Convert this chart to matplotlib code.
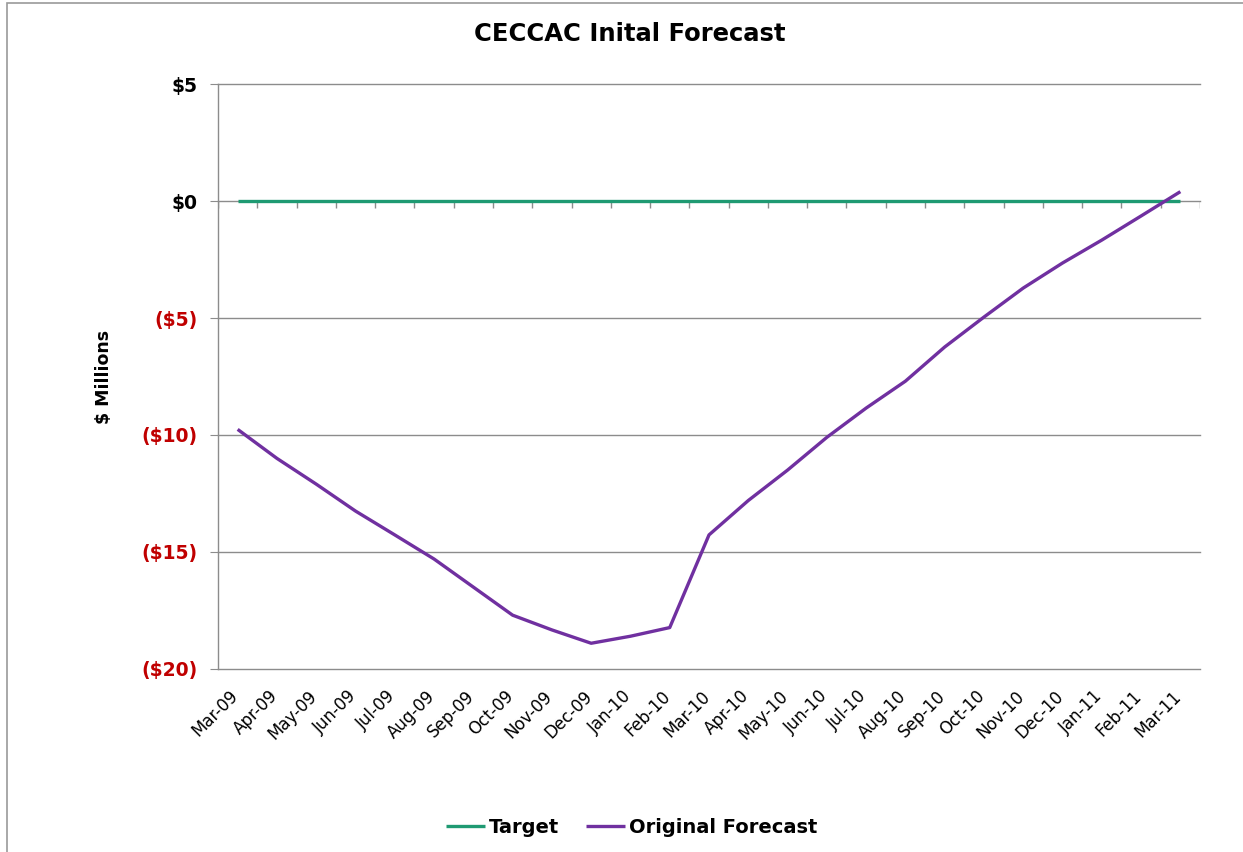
import matplotlib
matplotlib.use('Agg')
import matplotlib.pyplot as plt
import matplotlib.transforms as mtransforms
from matplotlib.patches import Rectangle

# ---- data ----
months = ['Mar-09', 'Apr-09', 'May-09', 'Jun-09', 'Jul-09', 'Aug-09', 'Sep-09',
          'Oct-09', 'Nov-09', 'Dec-09', 'Jan-10', 'Feb-10', 'Mar-10', 'Apr-10',
          'May-10', 'Jun-10', 'Jul-10', 'Aug-10', 'Sep-10', 'Oct-10', 'Nov-10',
          'Dec-10', 'Jan-11', 'Feb-11', 'Mar-11']
target = [0.0] * len(months)
forecast = [-9.76, -11.0, -12.1, -13.25, -14.27, -15.3, -16.5, -17.7, -18.33,
            -18.9, -18.6, -18.23, -14.27, -12.8, -11.5, -10.1, -8.85, -7.7,
            -6.24, -4.96, -3.72, -2.65, -1.67, -0.64, 0.4]
yticks = [5, 0, -5, -10, -15, -20]
ytick_labels = ['$5', '$0', '($5)', '($10)', '($15)', '($20)']

GREEN = '#1F9A72'
PURPLE = '#7030A0'
RED = '#C00000'
GRID = '#8C8C8C'

fig = plt.figure(figsize=(12.43, 8.52), dpi=100)
fig.patches.append(Rectangle((0.0056, -0.01), 1.2, 1.003 - 0.0070 + 0.01,
                             transform=fig.transFigure, fill=False,
                             edgecolor='#9A9A9A', linewidth=1.2))
ax = fig.add_axes([0.1754, 0.2148, 0.9654 - 0.1754, 0.9014 - 0.2148])

x = list(range(len(months)))
ax.set_xlim(-0.5, len(months) - 0.5)
ax.set_ylim(-20, 5)

# gridlines + axis at zero with category tick marks
for v in yticks:
    ax.axhline(v, color=GRID, linewidth=1.0, zorder=1, clip_on=False)
ax.vlines([i - 0.5 for i in range(len(months) + 1)], -0.28, 0,
          color=GRID, linewidth=1.0, zorder=1)

ax.plot(x, target, color=GREEN, linewidth=2.4, label='Target', zorder=3,
        solid_capstyle='butt')
ax.plot(x, forecast, color=PURPLE, linewidth=2.4, label='Original Forecast',
        zorder=4, solid_capstyle='butt')

for s in ['top', 'right', 'bottom']:
    ax.spines[s].set_visible(False)
ax.spines['left'].set_color(GRID)
ax.spines['left'].set_linewidth(1.0)

ax.set_yticks(yticks)
ax.set_yticklabels(ytick_labels, fontsize=13.5, fontweight='bold')
for lbl, v in zip(ax.get_yticklabels(), yticks):
    lbl.set_color(RED if v < 0 else 'black')
ax.tick_params(axis='y', length=6, color=GRID, pad=9)

ax.set_xticks(x)
ax.set_xticklabels(months, rotation=45, ha='right', rotation_mode='anchor',
                   fontsize=12)
ax.tick_params(axis='x', length=0, pad=13)
shift = mtransforms.ScaledTranslation(-6 / 72, 0, fig.dpi_scale_trans)
for lbl in ax.get_xticklabels():
    lbl.set_transform(lbl.get_transform() + shift)

ax.set_ylabel('$ Millions', fontsize=12.5, fontweight='bold', labelpad=20)
fig.text(0.507, 0.96, 'CECCAC Inital Forecast', ha='center', va='center',
         fontsize=17.5, fontweight='bold')

fig.legend(loc='center', bbox_to_anchor=(0.508, 0.029), ncol=2, frameon=False,
           prop={'weight': 'bold', 'size': 14}, handlelength=2.0,
           handletextpad=0.2, columnspacing=1.4)

fig.savefig('out.png', dpi=100)
